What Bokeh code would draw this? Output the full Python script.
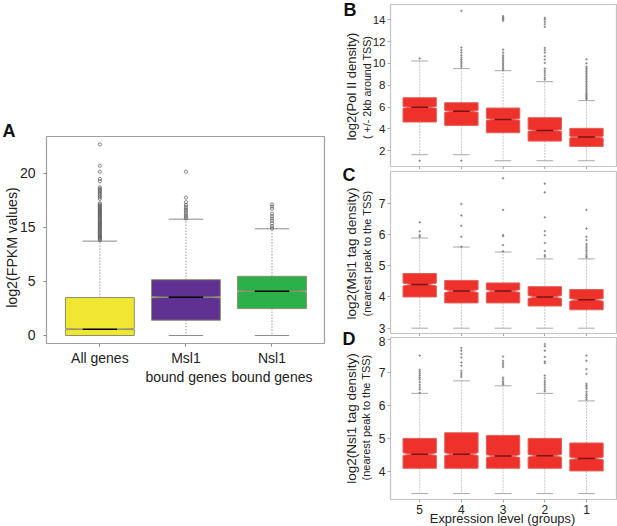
from bokeh.plotting import figure
from bokeh.layouts import row, column
from bokeh.models import Label, Range1d, FixedTicker
from bokeh.embed import file_html
from bokeh.resources import INLINE

# ---------- Panel A ----------
a_names = ["All genes", "Msl1\nbound genes", "Nsl1\nbound genes"]
a_q1 = [0.0, 1.41, 2.48]
a_med = [0.58, 3.53, 4.08]
a_q3 = [3.50, 5.15, 5.46]
a_low = [0.0, 0.0, 0.0]
a_up = [8.71, 10.74, 9.85]
a_out = [
    [17.64, 15.67, 15.12, 14.45, 14.23, 13.68, 13.56, 13.44, 13.31, 13.19, 13.07, 12.91, 12.76, 12.61,
     12.2, 12.1, 12.0, 11.9, 11.8, 11.7, 11.6, 11.5, 11.4, 11.3, 11.2, 11.1, 11.0, 10.9, 10.8, 10.7,
     10.6, 10.5, 10.4, 10.3, 10.2, 10.1, 10.0, 9.9, 9.8, 9.7, 9.6, 9.5, 9.4, 9.3, 9.2, 9.1, 9.0, 8.9, 8.8],
    [15.12, 12.73, 12.3, 12.05, 11.85, 11.65, 11.5, 11.3, 11.1, 10.95, 10.8],
    [12.09, 11.9, 11.7, 11.25, 11.0, 10.8, 10.6, 10.35, 10.1, 9.9],
]
a_colors = ["#f1e733", "#5f3292", "#2bb04a"]
a_ticks = {0: "0", 5: "5", 10: "15", 15: "20"}

# ---------- Panel B ----------
b_q1 = [4.63, 4.32, 3.65, 2.88, 2.39]
b_med = [5.98, 5.61, 4.87, 3.86, 3.25]
b_q3 = [6.86, 6.40, 5.91, 5.03, 4.05]
b_low = [1.63, 1.63, 1.08, 1.08, 1.08]
b_up = [10.23, 9.53, 9.34, 8.33, 6.59]
b_out = [
    [10.45, 1.08],
    [14.83, 11.46, 11.22, 11.0, 10.75, 10.54, 10.36, 10.2, 10.05, 9.86, 9.68, 1.08],
    [14.34, 14.22, 14.13, 14.04, 13.92, 11.27, 11.0, 10.75, 10.6, 10.45, 10.3, 10.15, 10.0, 9.85, 9.7, 9.55, 9.4],
    [14.18, 14.03, 13.82, 13.6, 13.36, 11.43, 11.22, 11.0, 10.66, 10.36, 10.05, 9.53, 9.32, 9.13, 8.92, 8.7, 8.52],
    [10.39, 10.0, 9.7, 9.55, 9.4, 9.25, 9.1, 8.95, 8.8, 8.65, 8.5, 8.35, 8.2, 8.05, 7.9, 7.75, 7.6, 7.45,
     7.3, 7.2, 7.1, 7.0, 6.9, 6.8, 6.7],
]

# ---------- Panel C ----------
c_q1 = [4.0, 3.81, 3.81, 3.71, 3.59]
c_med = [4.40, 4.19, 4.19, 4.0, 3.91]
c_q3 = [4.75, 4.53, 4.45, 4.33, 4.24]
c_low = [3.0, 3.0, 3.0, 3.0, 3.0]
c_up = [5.89, 5.60, 5.44, 5.22, 5.22]
c_out = [
    [6.39, 6.10, 5.98, 5.93],
    [6.98, 6.61, 6.28, 5.93, 5.61],
    [7.80, 6.79, 5.98, 5.95, 5.66, 5.46],
    [7.63, 7.35, 6.55, 6.11, 5.98, 5.73, 5.47, 5.34, 5.29],
    [6.79, 6.19, 5.93, 5.82, 5.70, 5.63, 5.57, 5.50, 5.44, 5.37, 5.31, 5.27],
]

# ---------- Panel D ----------
d_q1 = [4.09, 4.09, 4.09, 4.09, 4.01]
d_med = [4.52, 4.52, 4.46, 4.47, 4.39]
d_q3 = [5.0, 5.17, 5.09, 5.0, 4.86]
d_low = [3.32, 3.32, 3.32, 3.32, 3.32]
d_up = [6.37, 6.75, 6.60, 6.37, 6.14]
d_out = [
    [7.52, 7.09, 7.03, 6.97, 6.91, 6.85, 6.79, 6.71, 6.63, 6.56, 6.49, 6.39],
    [7.75, 7.67, 7.57, 7.46, 7.31, 7.21, 7.06, 6.99, 6.93, 6.87],
    [7.49, 7.36, 7.29, 7.23, 7.17, 6.85, 6.79, 6.73, 6.68, 6.64],
    [7.87, 7.80, 7.67, 7.48, 7.34, 7.29, 6.91, 6.83, 6.75, 6.69, 6.63, 6.56, 6.49, 6.43],
    [7.52, 7.36, 7.11, 6.96, 6.66, 6.61, 6.56, 6.51, 6.42, 6.35, 6.30, 6.24, 6.18],
]
group_names = {1: "5", 2: "4", 3: "3", 4: "2", 5: "1"}
RED = "#ee312a"
FONT = "Liberation Sans"


def boxes(p, q1, med, q3, low, up, out, colors, notch, box_line, med_color, med_w,
          wh_color, wh_dash, wh_w, cap_color, pt_size, pt_color, pt_fill, pt_alpha):
    n = len(q1)
    xc = list(range(1, n + 1))
    p.segment(xc, q3, xc, up, line_color=wh_color, line_dash=wh_dash, line_width=wh_w)
    p.segment(xc, q1, xc, low, line_color=wh_color, line_dash=wh_dash, line_width=wh_w)
    p.segment([x - 0.2 for x in xc], up, [x + 0.2 for x in xc], up, line_color=cap_color, line_width=1)
    p.segment([x - 0.2 for x in xc], low, [x + 0.2 for x in xc], low, line_color=cap_color, line_width=1)
    xs, ys = [], []
    for i, x in enumerate(xc):
        l, r, il, ir = x - 0.4, x + 0.4, x - 0.2, x + 0.2
        m = med[i]
        xs.append([l, l, il, l, l, r, r, ir, r, r])
        ys.append([q1[i], m - notch, m, m + notch, q3[i], q3[i], m + notch, m, m - notch, q1[i]])
    p.patches(xs, ys, fill_color=colors, line_color=box_line, line_width=1)
    p.segment([x - 0.2 for x in xc], med, [x + 0.2 for x in xc], med, line_color=med_color, line_width=med_w)
    ox, oy = [], []
    for i, vals in enumerate(out):
        ox += [xc[i]] * len(vals)
        oy += vals
    p.scatter(ox, oy, size=pt_size, line_color=pt_color, fill_color=pt_fill,
              line_width=0.7, alpha=pt_alpha)


def style(p, outline, tick, size, standoff):
    p.toolbar.logo = None
    p.grid.visible = False
    p.outline_line_color = outline
    p.outline_line_width = 1.2
    p.background_fill_color = None
    p.border_fill_color = None
    for ax in (p.xaxis[0], p.yaxis[0]):
        ax.axis_line_color = None
        ax.major_tick_line_color = tick
        ax.minor_tick_line_color = None
        ax.major_tick_in = 0
        ax.major_tick_out = 3
        ax.major_label_text_font = FONT
        ax.major_label_text_font_size = size
        ax.major_label_text_color = "#222222"
        ax.major_label_standoff = standoff


pA = figure(frame_width=278, frame_height=207, output_backend="svg", toolbar_location=None,
            x_range=Range1d(0.38, 3.61), y_range=Range1d(-0.74, 18.37),
            min_border_left=46, min_border_right=12, min_border_top=136, min_border_bottom=183)
boxes(pA, a_q1, a_med, a_q3, a_low, a_up, a_out, a_colors, 0.05, "#8d8d70", "#000000", 1.6,
      "#444444", "1 2", 0.8, "#8a8a8a", 3.2, "#555555", None, 1.0)
style(pA, "#a0a0a0", "#888888", "14px", 8)
pA.xaxis.ticker = FixedTicker(ticks=[1, 2, 3])
pA.xaxis.major_label_overrides = {i + 1: t for i, t in enumerate(a_names)}
pA.xaxis.major_label_standoff = 3
pA.yaxis.ticker = FixedTicker(ticks=list(a_ticks))
pA.yaxis.major_label_overrides = a_ticks


def panel(top, bottom, yr, q1, med, q3, low, up, out, notch, yticks, fs):
    p = figure(frame_width=226, frame_height=162, output_backend="svg", toolbar_location=None,
               x_range=Range1d(0.30, 5.72), y_range=Range1d(*yr),
               min_border_left=54, min_border_right=1, min_border_top=top, min_border_bottom=bottom)
    boxes(p, q1, med, q3, low, up, out, [RED] * 5, notch, "#e0605a", "#7a1515", 1.5,
          "#c8c8c8", "2 1", 1.0, "#a8a8a8", 1.6, "#777777", "#777777", 0.8)
    style(p, "#c4c4c4", "#aaaaaa", fs, 2)
    p.xaxis.ticker = FixedTicker(ticks=[1, 2, 3, 4, 5])
    p.yaxis.ticker = FixedTicker(ticks=yticks)
    return p


pB = panel(4, 2, (0.55, 15.41), b_q1, b_med, b_q3, b_low, b_up, b_out, 0.08,
           [2, 4, 6, 8, 10, 12, 14], "11.5px")
pC = panel(2, 2, (2.83, 8.02), c_q1, c_med, c_q3, c_low, c_up, c_out, 0.045,
           [3, 4, 5, 6, 7], "12px")
pD = panel(1, 29, (3.14, 8.07), d_q1, d_med, d_q3, d_low, d_up, d_out, 0.04,
           [4, 5, 6, 7, 8], "12px")
for p in (pB, pC):
    p.xaxis.major_label_overrides = {i: "" for i in group_names}
    p.xaxis.major_label_standoff = 0
pD.xaxis.major_label_overrides = group_names
pD.xaxis.major_label_standoff = 2

# Transparent page-sized layer for the panel letters and the side titles
pT = figure(frame_width=617, frame_height=526, output_backend="svg", toolbar_location=None,
            x_range=Range1d(0, 617), y_range=Range1d(526, 0),
            min_border_left=0, min_border_right=0, min_border_top=0, min_border_bottom=0)
pT.axis.visible = False
pT.grid.visible = False
pT.outline_line_color = None
pT.background_fill_color = None
pT.border_fill_color = None
for txt, x, y in [("A", 2, 130), ("B", 343, 9), ("C", 342, 174), ("D", 342, 338)]:
    pT.add_layout(Label(x=x, y=y, text=txt, text_font=FONT,
                        text_font_style="bold", text_font_size="18px", text_color="#111111",
                        text_baseline="middle", text_align="left"))
for txt, x, y, sz in [("log2(FPKM values)", 11, 247, "14.2px"),
                      ("log2(Pol II density)", 351, 86, "13px"),
                      ("( +/- 2kb around TSS)", 366, 87, "10.7px"),
                      ("log2(Msl1 tag density)", 351, 253, "13.5px"),
                      ("(nearest peak to the TSS)", 366, 253, "11px"),
                      ("log2(Nsl1 tag density)", 351, 418, "13.5px"),
                      ("(nearest peak to the TSS)", 365, 417, "11px")]:
    pT.add_layout(Label(x=x, y=y, text=txt, text_font=FONT,
                        text_font_size=sz, text_color="#222222", angle=90, angle_units="deg",
                        text_baseline="middle", text_align="center"))
pT.add_layout(Label(x=502, y=518, text="Expression level (groups)", text_font=FONT,
                    text_font_size="12.9px", text_color="#222222",
                    text_baseline="middle", text_align="center"))

right = column(pB, pC, pD, spacing=0)
layer = column(pT, spacing=0, margin=(0, 0, 0, -617))
root = row(pA, right, layer, spacing=0, margin=0)
open("out.html", "w").write(file_html(root, INLINE))
